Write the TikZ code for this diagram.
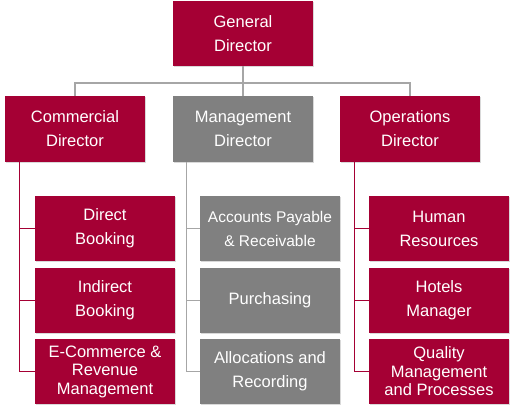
\documentclass[tikz,border=0pt]{standalone}
\usepackage{fontspec}
\setmainfont{Liberation Sans}
\usetikzlibrary{shadows}
\definecolor{crim}{HTML}{A50034}
\definecolor{gbox}{HTML}{808080}
\definecolor{gline}{HTML}{A6A6A6}
\begin{document}
\begin{tikzpicture}[x=1pt,y=-1pt,
  box/.style={minimum width=140pt, minimum height=65pt, inner sep=0pt, text=white, align=center,
    font=\fontsize{16.5}{24}\selectfont,
    drop shadow={shadow xshift=1.3pt,shadow yshift=-1.3pt,opacity=0.3}},
  redbox/.style={box, fill=crim},
  greybox/.style={box, fill=gbox},
  tight/.style={font=\fontsize{16.5}{18.5}\selectfont},
  topline/.style={draw=gline, line width=1.3pt},
  redline/.style={draw=crim, line width=1.3pt},
  greyline/.style={draw=gline, line width=1.3pt}]
\useasboundingbox (0,0) rectangle (514,410);
% top level
\node[redbox] (gd) at (243,33.5) {General\\Director};
\node[redbox, minimum height=66pt] (cd) at (75,129) {Commercial\\Director};
\node[greybox, minimum height=66pt] (md) at (243,129) {Management\\Director};
\node[redbox, minimum height=66pt] (od) at (410,129) {Operations\\Director};
% children
\node[redbox] (db) at (105,228.5) {Direct\\Booking};
\node[redbox] (ib) at (105,300.5) {Indirect\\Booking};
\node[redbox, tight] (ec) at (105,371.5) {E-Commerce \&\\Revenue\\Management};
\node[greybox, font=\fontsize{15.5}{24}\selectfont] (ap) at (270,228.5) {Accounts Payable\\\& Receivable};
\node[greybox] (pu) at (270,300.5) {Purchasing};
\node[greybox] (al) at (270,371.5) {Allocations and\\Recording};
\node[redbox] (hr) at (439,228.5) {Human\\Resources};
\node[redbox] (hm) at (439,300.5) {Hotels\\Manager};
\node[redbox, tight] (qm) at (439,371.5) {Quality\\Management\\and Processes};
% connectors
\coordinate (bus) at (243,83);
\draw[topline] (gd.south) -- (bus);
\draw[topline] (bus) -- (md.north);
\draw[topline] (cd.north) |- (bus) -| (od.north);
\draw[redline] (cd.south west) ++(15,0) |- (db.west);
\draw[redline] (cd.south west) ++(15,0) |- (ib.west);
\draw[redline] (cd.south west) ++(15,0) |- (ec.west);
\draw[greyline] (md.south west) ++(14,0) |- (ap.west);
\draw[greyline] (md.south west) ++(14,0) |- (pu.west);
\draw[greyline] (md.south west) ++(14,0) |- (al.west);
\draw[redline] (od.south west) ++(15,0) |- (hr.west);
\draw[redline] (od.south west) ++(15,0) |- (hm.west);
\draw[redline] (od.south west) ++(15,0) |- (qm.west);
\end{tikzpicture}
\end{document}
